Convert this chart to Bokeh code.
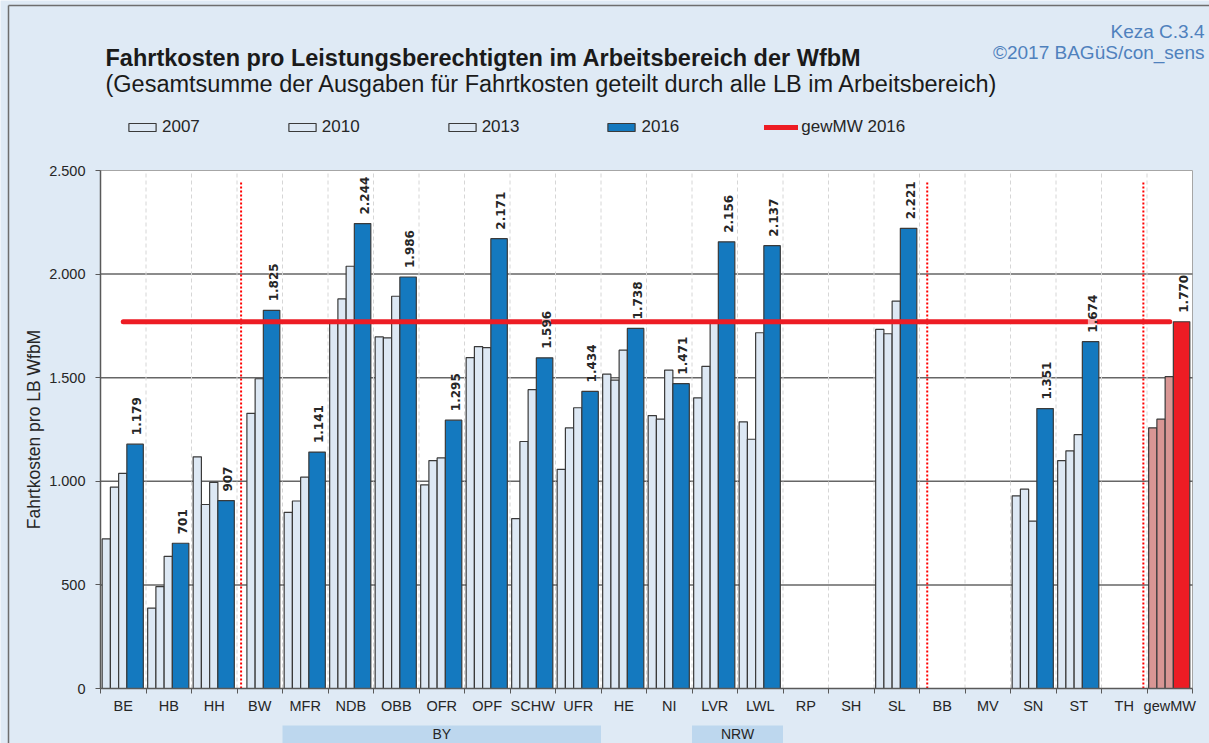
import math
from bokeh.plotting import figure
from bokeh.models import (ColumnDataSource, FixedTicker, Label, LabelSet, Legend,
                          LegendItem, Range1d, LinearAxis)
from bokeh.transform import dodge
from bokeh.core.properties import value
from bokeh.embed import file_html
from bokeh.resources import INLINE

nan = float("nan")

# ---------------- data ----------------
cats = ["BE", "HB", "HH", "BW", "MFR", "NDB", "OBB", "OFR", "OPF", "SCHW", "UFR",
        "HE", "NI", "LVR", "LWL", "RP", "SH", "SL", "BB", "MV", "SN", "ST", "TH", "gewMW"]
v2007 = [722, 388, 1118, nan, 850, 1765, 1697, 983, 1597, 820, 1058,
         1517, 1317, 1403, 1287, nan, nan, 1733, nan, nan, 930, 1100, nan, 1258]
v2010 = [972, 492, 888, 1328, 905, 1880, 1692, 1100, 1650, 1192, 1258,
         1488, 1300, 1555, 1203, nan, nan, 1712, nan, nan, 962, 1147, nan, 1300]
v2013 = [1038, 638, 995, 1495, 1020, 2038, 1893, 1113, 1645, 1442, 1355,
         1633, 1537, 1765, 1717, nan, nan, 1870, nan, nan, 808, 1225, nan, 1505]
v2016 = [1179, 701, 907, 1825, 1141, 2244, 1986, 1295, 2171, 1596, 1434,
         1738, 1471, 2156, 2137, nan, nan, 2221, nan, nan, 1351, 1674, nan, 1770]
gew_mw_2016 = 1770
separators_after = ["HH", "SL", "TH"]          # red dotted separators
groups = [("BY", "MFR", "UFR"), ("NRW", "LVR", "LWL")]
y_ticks = [0, 500, 1000, 1500, 2000, 2500]
y_tick_labels = ["0", "500", "1.000", "1.500", "2.000", "2.500"]
y_max = 2500

title = "Fahrtkosten pro Leistungsberechtigten im Arbeitsbereich der WfbM"
subtitle = "(Gesamtsumme der Ausgaben für Fahrtkosten geteilt durch alle LB im Arbeitsbereich)"
source_1 = "Keza C.3.4"
source_2 = "©2017 BAGüS/con_sens"

# ---------------- styling / layout ----------------
BG = "#DFEAF5"
LIGHT = "#DDE8F4"
BLUE = "#1479BF"
PINK = "#D99694"
RED = "#ED1C24"
EDGE = "#3A3A3A"
TXT = "#262626"
AX = "#595959"
FONT = "Liberation Sans"

W, H = 1209, 743                  # canvas
L, R, T, B = 100, 1192, 170, 688  # chart area inside canvas (px)

n = len(cats)
ppx = (R - L) / n
ppy = (B - T) / y_max

def fx(px):  # canvas pixel column -> data x
    return (px - L) / ppx

def fy(py):  # canvas pixel row -> data y
    return (B - py) / ppy

centers = [i + 0.5 for i in range(n)]
bounds_x = list(range(n + 1))
light_col = [PINK if c == "gewMW" else LIGHT for c in cats]
main_col = [RED if c == "gewMW" else BLUE for c in cats]

def de(v):
    return f"{v:,.0f}".replace(",", ".")

src = ColumnDataSource(dict(x=centers, cat=cats, v07=v2007, v10=v2010, v13=v2013,
                            v16=v2016, lc=light_col, mc=main_col))
ok = [i for i in range(n) if not math.isnan(v2016[i])]
lab_src = ColumnDataSource(dict(x=[centers[i] for i in ok], y=[v2016[i] for i in ok],
                                t=[de(v2016[i]) for i in ok]))

p = figure(width=W, height=H,
           x_range=Range1d(fx(0), fx(W)), y_range=Range1d(fy(H), fy(0)),
           x_axis_type=None, y_axis_type=None,
           output_backend="svg", toolbar_location=None,
           min_border_left=0, min_border_right=0, min_border_top=0, min_border_bottom=0)
p.title.visible = False
p.background_fill_color = BG
p.border_fill_color = BG
p.outline_line_color = None

# outer chart border
p.segment(x0=[fx(8), fx(8)], y0=[fy(5), fy(5)], x1=[fx(8), fx(W)], y1=[fy(H), fy(5)],
          line_color="#6E6E6E", line_width=1.5)

# white chart area with light frame
p.quad(left=0, right=n, bottom=0, top=y_max, fill_color="white", line_color="#A6A6A6",
       line_width=1, level="image")

# grid lines
gy = y_ticks[1:-1]
p.segment(x0=[0] * len(gy), x1=[n] * len(gy), y0=gy, y1=gy, line_color="#666666",
          line_width=1.5, level="underlay")
gx = bounds_x[1:-1]
p.segment(x0=gx, x1=gx, y0=[0] * len(gx), y1=[y_max] * len(gx), line_color="#D6D6D6",
          line_width=1, line_dash="4 3", level="underlay")

# axes (fixed inside the canvas)
xa = LinearAxis(fixed_location=0, bounds=(0, n),
                ticker=FixedTicker(ticks=centers, minor_ticks=bounds_x))
xa.major_label_overrides = {c: cats[i] for i, c in enumerate(centers)}
xa.major_tick_line_color = None
xa.major_tick_out = 0
xa.major_tick_in = 0
xa.minor_tick_out = 5
xa.minor_tick_in = 0
xa.minor_tick_line_color = AX
xa.axis_line_color = AX
xa.axis_line_width = 1.5
xa.major_label_text_font = FONT
xa.major_label_text_font_size = "14.5px"
xa.major_label_text_color = TXT
xa.major_label_standoff = 4
p.add_layout(xa, "below")

ya = LinearAxis(fixed_location=0, bounds=(0, y_max), ticker=FixedTicker(ticks=y_ticks))
ya.major_label_overrides = {t: l for t, l in zip(y_ticks, y_tick_labels)}
ya.major_tick_out = 5
ya.major_tick_in = 0
ya.minor_tick_line_color = None
ya.major_tick_line_color = AX
ya.axis_line_color = AX
ya.axis_line_width = 1.5
ya.major_label_text_font = FONT
ya.major_label_text_font_size = "14.5px"
ya.major_label_text_color = TXT
ya.major_label_standoff = 10
ya.axis_label = "Fahrtkosten pro LB WfbM"
ya.axis_label_text_font = FONT
ya.axis_label_text_font_size = "17.5px"
ya.axis_label_text_font_style = "normal"
ya.axis_label_text_color = TXT
ya.axis_label_standoff = 2
p.add_layout(ya, "left")

# bars
wl = 0.181
wb = 0.362
r07 = p.vbar(x=dodge("x", -0.373, range=p.x_range), top="v07", width=wl, source=src,
             fill_color="lc", line_color=EDGE, line_width=1.2)
r10 = p.vbar(x=dodge("x", -0.192, range=p.x_range), top="v10", width=wl, source=src,
             fill_color="lc", line_color=EDGE, line_width=1.2)
r13 = p.vbar(x=dodge("x", -0.011, range=p.x_range), top="v13", width=wl, source=src,
             fill_color="lc", line_color=EDGE, line_width=1.2)
r16 = p.vbar(x=dodge("x", 0.26, range=p.x_range), top="v16", width=wb, source=src,
             fill_color="mc", line_color=EDGE, line_width=1.2)

# separators
sep_x = [cats.index(c) + 1 + d for c, d in zip(separators_after, [0.09, 0.17, -0.08])]
p.segment(x0=sep_x, y0=[0] * 3, x1=sep_x, y1=[y_max * 0.98] * 3, line_color="#FF0000",
          line_width=2, line_dash="2 2")

# weighted mean line
rmw = p.line(x=[centers[0], centers[-1]], y=[gew_mw_2016, gew_mw_2016], line_color=RED,
             line_width=5, line_cap="round")

# value labels
labels = LabelSet(x=dodge("x", 0.3, range=p.x_range), y="y", text="t", source=lab_src,
                  angle=math.pi / 2, text_align="left", text_baseline="middle",
                  y_offset=9, text_font=value("DejaVu Sans"), text_font_style="bold",
                  text_font_size="12px", text_color=TXT,
                  background_fill_color="white", background_fill_alpha=0.6)
p.add_layout(labels)

# legend
legend = Legend(items=[LegendItem(label="2007", renderers=[r07]),
                       LegendItem(label="2010", renderers=[r10]),
                       LegendItem(label="2013", renderers=[r13]),
                       LegendItem(label="2016", renderers=[r16]),
                       LegendItem(label="gewMW 2016", renderers=[rmw])],
                orientation="horizontal", location=(125, H - 137), spacing=85,
                glyph_width=34, glyph_height=10, label_standoff=3, padding=0, margin=0,
                label_height=20, background_fill_alpha=0, border_line_alpha=0,
                label_text_font=FONT, label_text_font_size="17px", label_text_color=TXT)
p.add_layout(legend)

# titles (screen units from the canvas bottom-left)
p.add_layout(Label(x=105, y=H - 57, x_units="screen", y_units="screen", text=title,
                   text_font=FONT, text_font_style="bold", text_font_size="23.5px",
                   text_color="#1A1A1A", text_baseline="alphabetic"))
p.add_layout(Label(x=105, y=H - 83, x_units="screen", y_units="screen", text=subtitle,
                   text_font=FONT, text_font_size="23.5px",
                   text_color="#1A1A1A", text_baseline="alphabetic"))
p.add_layout(Label(x=W - 5, y=H - 31, x_units="screen", y_units="screen", text=source_1,
                   text_font=FONT, text_font_size="19px", text_color="#4F81BD",
                   text_align="right", text_baseline="alphabetic"))
p.add_layout(Label(x=W - 5, y=H - 52, x_units="screen", y_units="screen", text=source_2,
                   text_font=FONT, text_font_size="19px", text_color="#4F81BD",
                   text_align="right", text_baseline="alphabetic"))

# group bands below the axis
for name, a, b in groups:
    ia, ib = cats.index(a), cats.index(b)
    p.quad(left=ia, right=ib + 1, top=fy(725), bottom=fy(H), fill_color="#BDD7EE",
           line_color=None)
    p.add_layout(Label(x=(ia + ib + 1) / 2, y=fy(733), text=name, text_font=FONT,
                       text_font_size="14px", text_color=TXT,
                       text_align="center", text_baseline="middle"))

open("out.html", "w").write(file_html(p, INLINE))
